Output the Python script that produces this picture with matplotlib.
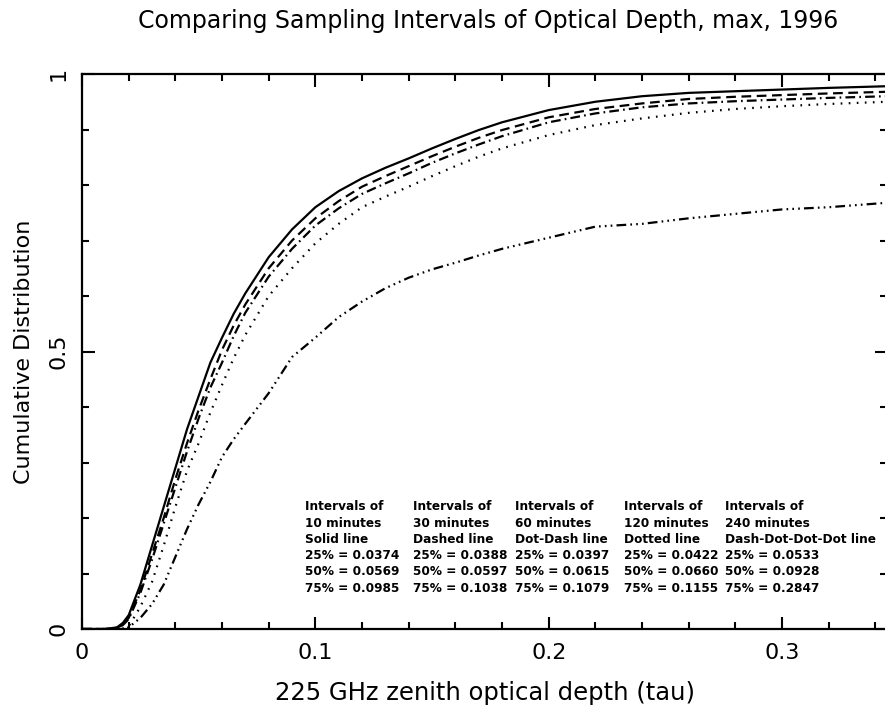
import matplotlib
matplotlib.use("Agg")
import matplotlib.pyplot as plt
from matplotlib.ticker import MultipleLocator

# optical depth grid (tau)
tau = [0.0, 0.01, 0.015, 0.0175, 0.02, 0.025, 0.03, 0.035, 0.04, 0.045, 0.05,
       0.055, 0.06, 0.065, 0.07, 0.08, 0.09, 0.10, 0.11, 0.12, 0.13, 0.14,
       0.15, 0.16, 0.17, 0.18, 0.20, 0.22, 0.24, 0.26, 0.28, 0.30, 0.32, 0.345]

# cumulative distribution for each sampling interval
cdf_10 = [0.0, 0.0, 0.003, 0.011, 0.025, 0.08, 0.15, 0.22, 0.29, 0.36, 0.42,
          0.48, 0.525, 0.568, 0.605, 0.67, 0.72, 0.76, 0.789, 0.812, 0.831, 0.848,
          0.866, 0.883, 0.899, 0.913, 0.935, 0.95, 0.96, 0.966, 0.969, 0.972,
          0.975, 0.978]
cdf_30 = [0.0, 0.0, 0.002, 0.008, 0.02, 0.07, 0.135, 0.20, 0.27, 0.335, 0.395,
          0.45, 0.503, 0.547, 0.585, 0.65, 0.70, 0.74, 0.771, 0.797, 0.816, 0.834,
          0.852, 0.869, 0.885, 0.899, 0.922, 0.937, 0.947, 0.955, 0.959, 0.962,
          0.965, 0.968]
cdf_60 = [0.0, 0.0, 0.002, 0.007, 0.018, 0.065, 0.125, 0.19, 0.255, 0.32, 0.38,
          0.435, 0.48, 0.528, 0.57, 0.635, 0.685, 0.727, 0.758, 0.784, 0.803, 0.821,
          0.84, 0.857, 0.873, 0.888, 0.913, 0.929, 0.94, 0.947, 0.951, 0.954,
          0.957, 0.96]
cdf_120 = [0.0, 0.0, 0.0, 0.001, 0.005, 0.04, 0.085, 0.15, 0.22, 0.285, 0.335,
           0.39, 0.44, 0.488, 0.53, 0.60, 0.65, 0.695, 0.73, 0.76, 0.779, 0.797,
           0.816, 0.834, 0.851, 0.866, 0.89, 0.908, 0.92, 0.93, 0.937, 0.942,
           0.946, 0.95]
cdf_240 = [0.0, 0.0, 0.0, 0.0, 0.003, 0.02, 0.045, 0.08, 0.13, 0.18, 0.225,
           0.265, 0.31, 0.342, 0.37, 0.425, 0.49, 0.525, 0.562, 0.59, 0.614, 0.633,
           0.648, 0.66, 0.673, 0.685, 0.705, 0.725, 0.73, 0.74, 0.748, 0.756,
           0.76, 0.768]

intervals = [10, 30, 60, 120, 240]
line_names = ["Solid", "Dashed", "Dot-Dash", "Dotted", "Dash-Dot-Dot-Dot"]
q25 = ["0.0374", "0.0388", "0.0397", "0.0422", "0.0533"]
q50 = ["0.0569", "0.0597", "0.0615", "0.0660", "0.0928"]
q75 = ["0.0985", "0.1038", "0.1079", "0.1155", "0.2847"]


def main():
    plt.rcParams["lines.scale_dashes"] = False
    plt.rcParams["font.family"] = "DejaVu Sans"

    fig = plt.figure(figsize=(8.85, 7.13), dpi=100)
    ax = fig.add_axes([0.0927, 0.1178, 0.9096, 0.7784])

    cdfs = [cdf_10, cdf_30, cdf_60, cdf_120, cdf_240]
    styles = [None, (0, (7, 4)), (0, (7, 3, 1.2, 3)), (0, (1.2, 4.6)),
              (0, (7, 3, 1.2, 3, 1.2, 3, 1.2, 3))]
    for cdf, st in zip(cdfs, styles):
        if st is None:
            ax.plot(tau, cdf, color="black", lw=1.6)
        else:
            ax.plot(tau, cdf, color="black", lw=1.6, linestyle=st)

    ax.set_xlim(0, 0.345)
    ax.set_ylim(0, 1)

    # ticks like the old PGPLOT frame: inward on all four sides
    ax.xaxis.set_major_locator(MultipleLocator(0.1))
    ax.xaxis.set_minor_locator(MultipleLocator(0.02))
    ax.yaxis.set_major_locator(MultipleLocator(0.5))
    ax.yaxis.set_minor_locator(MultipleLocator(0.1))
    ax.tick_params(which="both", direction="in", top=True, right=True,
                   width=1.5, labelsize=16)
    ax.tick_params(which="major", length=9, pad=10)
    ax.tick_params(which="minor", length=5)
    ax.set_xticks([0, 0.1, 0.2, 0.3])
    ax.set_xticklabels(["0", "0.1", "0.2", "0.3"])
    ax.set_yticks([0, 0.5, 1])
    ax.set_yticklabels(["0", "0.5", "1"], rotation=90, va="center")
    for sp in ax.spines.values():
        sp.set_linewidth(1.6)

    ax.set_xlabel("225 GHz zenith optical depth (tau)", fontsize=17.5, labelpad=13)
    ax.set_ylabel("Cumulative Distribution", fontsize=16, labelpad=10)
    fig.text(0.551, 0.971, "Comparing Sampling Intervals of Optical Depth, max, 1996",
             ha="center", va="center", fontsize=17)

    # quartile summary block
    col_x = [0.0956, 0.1419, 0.1856, 0.2323, 0.2756]
    for i in range(len(intervals)):
        txt = "Intervals of\n%d minutes\n%s line\n25%% = %s\n50%% = %s\n75%% = %s" % (
            intervals[i], line_names[i], q25[i], q50[i], q75[i])
        ax.text(col_x[i], 0.232, txt, ha="left", va="top", fontsize=8.7,
                fontweight="bold", linespacing=1.33)

    fig.savefig("out.png", dpi=100)


if __name__ == "__main__":
    main()
